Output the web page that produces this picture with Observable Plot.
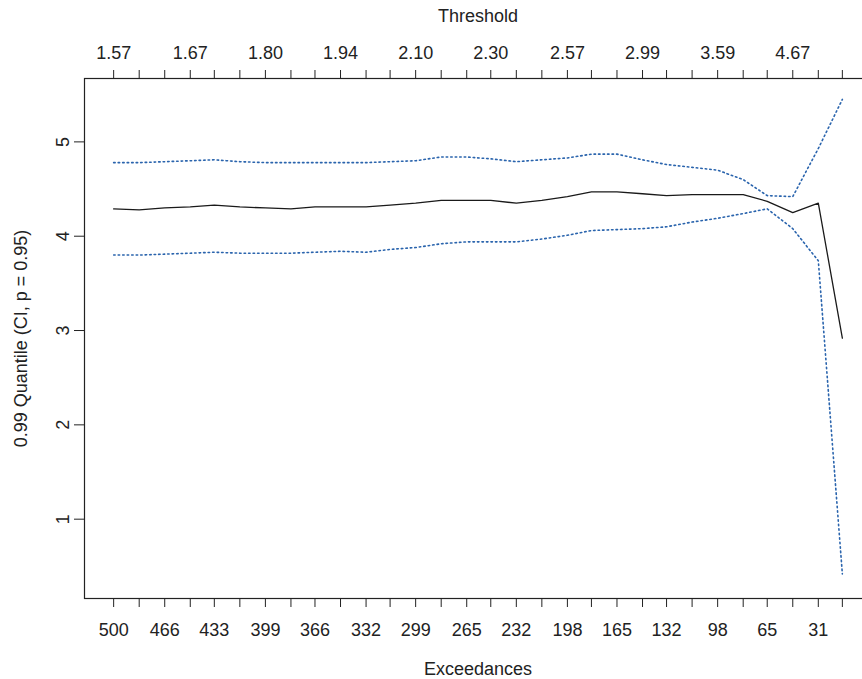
<!DOCTYPE html>
<html><head><meta charset="utf-8">
<script src="https://cdn.jsdelivr.net/npm/d3@7"></script>
<script src="https://cdn.jsdelivr.net/npm/@observablehq/plot@0.6"></script>
<style>
html,body{margin:0;padding:0;background:#fff;overflow:hidden;width:862px;height:679px}
svg{max-width:none !important;}
</style></head><body><div id="chart"></div>
<script>
const exceedances = [500,483,466,449,433,416,399,382,366,349,332,316,299,282,265,249,232,215,198,182,165,148,132,115,98,81,65,48,31,15];
const estimate = [4.29,4.28,4.30,4.31,4.33,4.31,4.30,4.29,4.31,4.31,4.31,4.33,4.35,4.38,4.38,4.38,4.35,4.38,4.42,4.47,4.47,4.45,4.43,4.44,4.44,4.44,4.37,4.25,4.35,2.92];
const upperCI = [4.78,4.78,4.79,4.80,4.81,4.79,4.78,4.78,4.78,4.78,4.78,4.79,4.80,4.84,4.84,4.82,4.79,4.81,4.83,4.87,4.87,4.81,4.76,4.73,4.70,4.60,4.43,4.42,4.93,5.45];
const lowerCI = [3.80,3.80,3.81,3.82,3.83,3.82,3.82,3.82,3.83,3.84,3.83,3.86,3.88,3.92,3.94,3.94,3.94,3.97,4.01,4.06,4.07,4.08,4.10,4.15,4.19,4.24,4.29,4.08,3.74,0.42];
const bottomLabelTicks = [500,466,433,399,366,332,299,265,232,198,165,132,98,65,31];
const topLabelTicks = [500,449,399,349,299,249,198,148,98,48];
const thresholdLabels = ["1.57","1.67","1.80","1.94","2.10","2.30","2.57","2.99","3.59","4.67"];
const yTicks = [1,2,3,4,5];

const rows = exceedances.map((e,i)=>({e, est: estimate[i], lo: lowerCI[i], hi: upperCI[i]}));
const thrMap = new Map(topLabelTicks.map((t,i)=>[t, thresholdLabels[i]]));
const ink = "#222";
const ciColor = "#2a64ad";

const chart = Plot.plot({
  width: 872, height: 679,
  marginLeft: 84, marginRight: 1, marginTop: 78, marginBottom: 81,
  style: {fontFamily: "'Liberation Sans', Arial, sans-serif", fontSize: "18px", color: ink, background: "white", maxWidth: "none"},
  x: {domain: [519.4, -4.4], axis: null},
  y: {domain: [0.159, 5.672], axis: null},
  marks: [
    Plot.frame({stroke: ink, strokeWidth: 1.2}),
    Plot.axisX({anchor: "bottom", ticks: exceedances, tickSize: 9, tickPadding: 16,
      tickFormat: d => bottomLabelTicks.includes(d) ? String(d) : "",
      label: "Exceedances", labelAnchor: "center", labelArrow: "none", labelOffset: 76, stroke: ink, fill: ink}),
    Plot.axisX({anchor: "top", ticks: exceedances, tickSize: 9, tickPadding: 11,
      tickFormat: d => thrMap.get(d) ?? "",
      label: "Threshold", labelAnchor: "center", labelArrow: "none", labelOffset: 69, stroke: ink, fill: ink}),
    Plot.axisY({anchor: "left", ticks: yTicks, tickSize: 10, tickPadding: 6, tickRotate: -90,
      tickFormat: d => String(d),
      label: "0.99 Quantile (CI, p = 0.95)", labelAnchor: "center", labelArrow: "none", labelOffset: 70, stroke: ink, fill: ink}),
    Plot.line(rows, {x: "e", y: "hi", stroke: ciColor, strokeWidth: 1.6, strokeDasharray: "1.5 3"}),
    Plot.line(rows, {x: "e", y: "lo", stroke: ciColor, strokeWidth: 1.6, strokeDasharray: "1.5 3"}),
    Plot.line(rows, {x: "e", y: "est", stroke: "#1a1a1a", strokeWidth: 1.3})
  ]
});
document.getElementById("chart").appendChild(chart);
</script>
</body></html>
